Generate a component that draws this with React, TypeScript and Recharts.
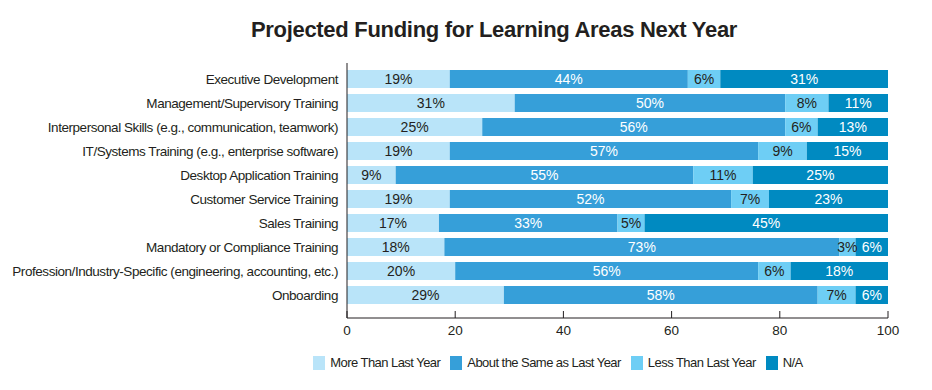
import { Bar, BarChart, LabelList, Legend, XAxis, YAxis } from 'recharts';

const categories = [
  'Executive Development',
  'Management/Supervisory Training',
  'Interpersonal Skills (e.g., communication, teamwork)',
  'IT/Systems Training (e.g., enterprise software)',
  'Desktop Application Training',
  'Customer Service Training',
  'Sales Training',
  'Mandatory or Compliance Training',
  'Profession/Industry-Specific (engineering, accounting, etc.)',
  'Onboarding',
];

const moreThanLastYear = [19, 31, 25, 19, 9, 19, 17, 18, 20, 29];
const aboutTheSame = [44, 50, 56, 57, 55, 52, 33, 73, 56, 58];
const lessThanLastYear = [6, 8, 6, 9, 11, 7, 5, 3, 6, 7];
const notApplicable = [31, 11, 13, 15, 25, 23, 45, 6, 18, 6];

const xTicks = [0, 20, 40, 60, 80, 100];

const data = categories.map((name, i) => ({
  name,
  more: moreThanLastYear[i],
  same: aboutTheSame[i],
  less: lessThanLastYear[i],
  na: notApplicable[i],
}));

const series = [
  { key: 'more', label: 'More Than Last Year', color: '#b9e4f9', text: '#231f20' },
  { key: 'same', label: 'About the Same as Last Year', color: '#369fd9', text: '#ffffff' },
  { key: 'less', label: 'Less Than Last Year', color: '#6ecef5', text: '#231f20' },
  { key: 'na', label: 'N/A', color: '#008ac1', text: '#ffffff' },
];

const INK = '#231f20';
const FONT = '"Liberation Sans", Arial, Helvetica, sans-serif';

const pct = (v: any) => `${v}%`;

function CategoryTick({ x, y, payload }: any) {
  return (
    <text
      x={x}
      y={y}
      dy={5}
      textAnchor="end"
      fill={INK}
      fontSize={13.5}
      fontFamily={FONT}
      letterSpacing={-0.45}
    >
      {payload.value}
    </text>
  );
}

function ValueTick({ x, y, payload }: any) {
  return (
    <g>
      <line x1={x} x2={x} y1={y - 7} y2={y} stroke={INK} strokeWidth={1} />
      <text x={x} y={y + 17} textAnchor="middle" fill={INK} fontSize={13.5} fontFamily={FONT}>
        {payload.value}
      </text>
    </g>
  );
}

function LegendRow() {
  return (
    <div
      style={{
        display: 'flex',
        justifyContent: 'center',
        alignItems: 'center',
        fontFamily: FONT,
        fontSize: 13,
        letterSpacing: -0.55,
        color: INK,
        paddingLeft: 194,
      }}
    >
      {series.map((s) => (
        <div key={s.key} style={{ display: 'flex', alignItems: 'center', marginRight: 10 }}>
          <span style={{ width: 12, height: 14, background: s.color, display: 'inline-block', marginRight: 5 }} />
          <span>{s.label}</span>
        </div>
      ))}
    </div>
  );
}

export default function App() {
  return (
    <div style={{ position: 'absolute', left: 0, top: 0, width: 932, height: 390, background: '#fff' }}>
      <div
        style={{
          position: 'absolute',
          left: 0,
          top: 17,
          width: 988,
          textAlign: 'center',
          fontFamily: FONT,
          fontWeight: 700,
          fontSize: 22,
          letterSpacing: -0.3,
          color: INK,
        }}
      >
        Projected Funding for Learning Areas Next Year
      </div>
      <BarChart
        width={932}
        height={390}
        data={data}
        layout="vertical"
        margin={{ top: 63, right: 44, bottom: 42, left: 0 }}
        barSize={18}
      >
        <XAxis
          type="number"
          domain={[0, 100]}
          ticks={xTicks}
          allowDataOverflow
          height={30}
          tickSize={0}
          tickMargin={0}
          tickLine={false}
          tick={<ValueTick />}
          axisLine={{ stroke: INK }}
        />
        <YAxis
          type="category"
          dataKey="name"
          width={347}
          padding={{ top: 4, bottom: 11 }}
          tickSize={0}
          tickMargin={9}
          tickLine={false}
          tick={<CategoryTick />}
          axisLine={{ stroke: INK }}
          interval={0}
        />
        <Legend
          layout="horizontal"
          verticalAlign="middle"
          align="center"
          wrapperStyle={{ position: 'absolute', top: 355, left: 0, width: 932 }}
          content={<LegendRow />}
        />
        {series.map((s) => (
          <Bar key={s.key} dataKey={s.key} name={s.label} stackId="a" fill={s.color} isAnimationActive={false}>
            <LabelList
              dataKey={s.key}
              position="center"
              formatter={pct}
              fill={s.text}
              fontSize={14}
              fontFamily={FONT}
            />
          </Bar>
        ))}
      </BarChart>
    </div>
  );
}
